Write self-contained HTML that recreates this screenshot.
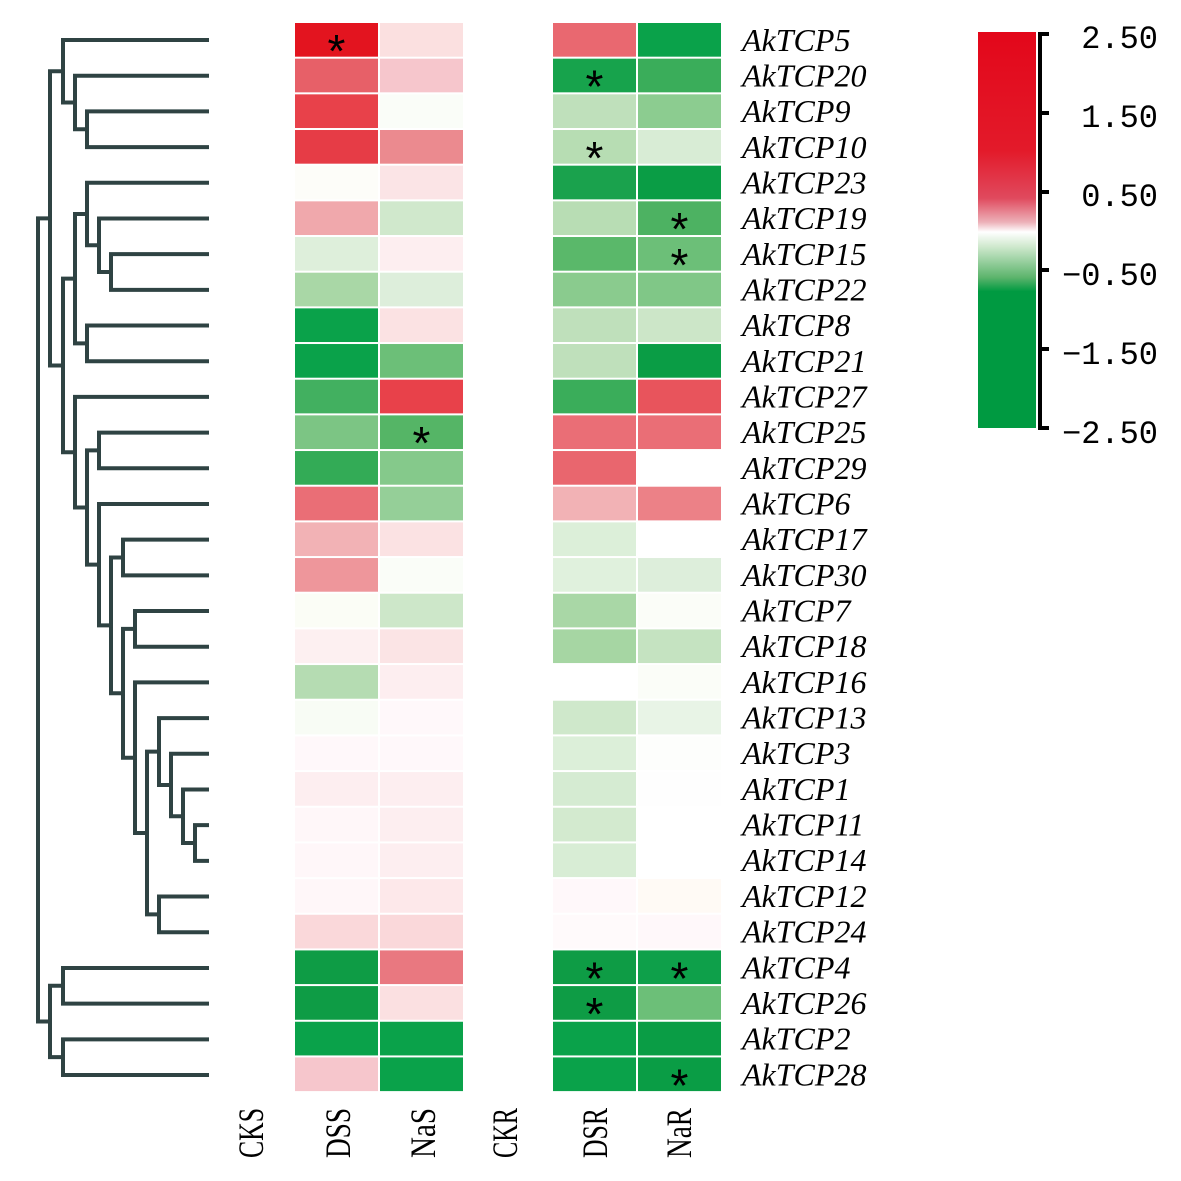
<!DOCTYPE html>
<html><head><meta charset="utf-8"><style>html,body{margin:0;padding:0;background:#fff}svg{display:block}</style></head>
<body>
<svg id="s" width="1181" height="1181" viewBox="0 0 1181 1181" xmlns="http://www.w3.org/2000/svg">
<defs>
<linearGradient id="g" x1="0" y1="0" x2="0" y2="1">
<stop offset="0" stop-color="#e3071a"/>
<stop offset="0.30" stop-color="#e31a2a"/>
<stop offset="0.42" stop-color="#e04a5e"/>
<stop offset="0.48" stop-color="#ecb0b8"/>
<stop offset="0.505" stop-color="#ffffff"/>
<stop offset="0.54" stop-color="#d2ead0"/>
<stop offset="0.62" stop-color="#5cb46c"/>
<stop offset="0.655" stop-color="#009a41"/>
<stop offset="1" stop-color="#009a41"/>
</linearGradient>
</defs>
<rect x="0" y="0" width="1181" height="1181" fill="#fff"/>
<g id="cells"></g>
<g id="dend" stroke="#2f4343" stroke-width="4" fill="none" stroke-linecap="square"></g>
<g id="labels" font-family="Liberation Serif, serif" font-style="italic" font-size="32" fill="#000"></g>
<g id="stars" font-family="Liberation Sans, sans-serif" font-size="46" fill="#000" text-anchor="middle"></g>
<rect x="978" y="32" width="58" height="396" fill="url(#g)"/>
<g stroke="#000" stroke-width="4">
<line x1="1040" y1="32" x2="1040" y2="430"/>
<line x1="1040" y1="34" x2="1049" y2="34"/>
<line x1="1040" y1="113" x2="1049" y2="113"/>
<line x1="1040" y1="192" x2="1049" y2="192"/>
<line x1="1040" y1="270" x2="1049" y2="270"/>
<line x1="1040" y1="349" x2="1049" y2="349"/>
<line x1="1040" y1="428" x2="1049" y2="428"/>
</g>
<g font-family="Liberation Mono, monospace" font-size="32" fill="#000" text-anchor="end">
<text x="1158" y="48">2.50</text>
<text x="1158" y="127">1.50</text>
<text x="1158" y="206">0.50</text>
<text x="1158" y="285">−0.50</text>
<text x="1158" y="364">−1.50</text>
<text x="1158" y="443">−2.50</text>
</g>
<g font-family="Liberation Serif, serif" font-size="36" fill="#000">
<text transform="translate(263,1158) rotate(-90)" textLength="50" lengthAdjust="spacingAndGlyphs">CKS</text>
<text transform="translate(350,1158) rotate(-90)" textLength="50" lengthAdjust="spacingAndGlyphs">DSS</text>
<text transform="translate(435,1158) rotate(-90)" textLength="50" lengthAdjust="spacingAndGlyphs">NaS</text>
<text transform="translate(517,1158) rotate(-90)" textLength="50" lengthAdjust="spacingAndGlyphs">CKR</text>
<text transform="translate(607,1158) rotate(-90)" textLength="50" lengthAdjust="spacingAndGlyphs">DSR</text>
<text transform="translate(691,1158) rotate(-90)" textLength="50" lengthAdjust="spacingAndGlyphs">NaR</text>
</g>
</svg>
<script>
var NS="http://www.w3.org/2000/svg";
function el(t,a,p,txt){var e=document.createElementNS(NS,t);for(var k in a)e.setAttribute(k,a[k]);if(txt)e.textContent=txt;document.getElementById(p).appendChild(e);return e;}
var names=["AkTCP5","AkTCP20","AkTCP9","AkTCP10","AkTCP23","AkTCP19","AkTCP15","AkTCP22","AkTCP8","AkTCP21","AkTCP27","AkTCP25","AkTCP29","AkTCP6","AkTCP17","AkTCP30","AkTCP7","AkTCP18","AkTCP16","AkTCP13","AkTCP3","AkTCP1","AkTCP11","AkTCP14","AkTCP12","AkTCP24","AkTCP4","AkTCP26","AkTCP2","AkTCP28"];
var C=[
["#e3141f","#fbe0e0","#e96870","#0aa24a"],
["#e76068","#f6c6cc","#17a34c","#3aad5a"],
["#e8414a","#fafdf8","#bfe0bb","#8ccc90"],
["#e63c46","#eb8a8f","#b7ddb3","#d8ecd5"],
["#fdfdf9","#fbe4e6","#1aa24d","#0a9d45"],
["#f0a8ac","#d0e8cc","#b8ddb4","#4db262"],
["#deefdb","#fdeef0","#5ab86a","#6cbf78"],
["#a9d7a6","#ddeedb","#8acb8e","#80c787"],
["#0aa24a","#fbe2e3","#bfe0bb","#cce6c8"],
["#0aa24a","#6cbf78","#bfe0bb","#0a9d45"],
["#42b060","#e8414a","#3aad5a","#e8545c"],
["#7cc584","#55b566","#ea6e76","#ea6e76"],
["#33ab56","#85c98b","#e9666e","#ffffff"],
["#ea6e76","#95cf98","#f2b2b5","#ec8187"],
["#f2b2b5","#fbe2e3","#dcefd9","#ffffff"],
["#ee969b","#fafdf8","#e0f1dd","#ddeedb"],
["#fbfdf6","#cde7c9","#a9d7a6","#fbfdf8"],
["#fdf0f1","#fbe4e5","#a6d6a3","#c5e3c1"],
["#b5dcb2","#fdeef0","#ffffff","#fbfdf8"],
["#f8fcf5","#fff8fa","#cfe8cb","#e8f4e6"],
["#fff8fa","#fff8fa","#dcefd9","#fdfefc"],
["#fdeef0","#fdeef0","#d5ebd2","#fefefe"],
["#fff7f9","#fdeef0","#d3eacf","#ffffff"],
["#fff7f9","#fdeef0","#d8edd5","#ffffff"],
["#fff7f9","#fde8ea","#fff8fa","#fffaf5"],
["#fad8da","#fad8da","#fffafb","#fff8fa"],
["#0e9c45","#e97880","#0e9c45","#0ea04a"],
["#0e9c45","#fbe0e1","#0e9c45","#6cbf78"],
["#0aa24a","#0aa24a","#0aa24a","#0a9d45"],
["#f6c6cc","#0aa24a","#0aa24a","#0a9d45"]];
var colX=[295,380,553,638],cw=83,y0=22,rh=35.67;
for(var i=0;i<30;i++){
 var y=y0+i*rh;
 for(var j=0;j<4;j++) el("rect",{x:colX[j],y:y+1,width:cw,height:rh-2,fill:C[i][j]},"cells");
 el("text",{x:742,y:y+rh/2+11},"labels",names[i]);
}
var stars=[[0,0],[1,2],[3,2],[5,3],[6,3],[11,1],[26,2],[26,3],[27,2],[29,3]];
stars.forEach(function(s){var y=y0+s[0]*rh;el("text",{x:colX[s[1]]+cw/2,y:y+rh/2+27},"stars","*");});
function Ly(i){return 40+i*35.69;}
function L(i){return {y:Ly(i),x:207};}
function N(x,a,b){var d=document.getElementById("dend");
 var p=document.createElementNS(NS,"path");
 p.setAttribute("d","M"+a.x+","+a.y+" H"+x+" V"+b.y+" H"+b.x);d.appendChild(p);
 return {x:x,y:(a.y+b.y)/2};}
var A1=N(63,L(0),N(75,L(1),N(87,L(2),L(3))));
var g47=N(87,L(4),N(99,L(5),N(111,L(6),L(7))));
var g49=N(75,g47,N(87,L(8),L(9)));
var V=N(159,L(19),N(171,L(20),N(183,L(21),N(195,L(22),L(23)))));
var W=N(147,V,N(159,L(24),L(25)));
var Z=N(135,L(18),W);
var Y=N(123,N(135,L(16),L(17)),Z);
var X=N(111,N(123,L(14),L(15)),Y);
var g1325=N(99,L(13),X);
var g1025=N(75,L(10),N(87,N(99,L(11),L(12)),g1325));
var A2=N(63,g49,g1025);
var A=N(50,A1,A2);
var B=N(50,N(63,L(26),L(27)),N(63,L(28),L(29)));
N(38,A,B);
</script>
</body></html>
